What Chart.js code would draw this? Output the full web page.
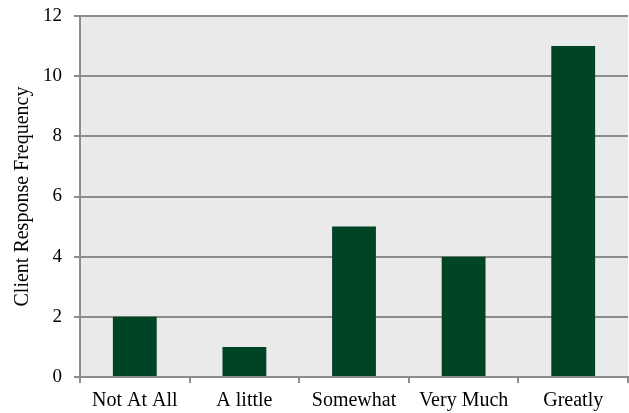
<!DOCTYPE html>
<html>
<head>
<meta charset="utf-8">
<script src="https://cdn.jsdelivr.net/npm/chart.js@4"></script>
<style>
  html, body { margin: 0; padding: 0; background: #ffffff; }
  #wrap { width: 629px; height: 413px; }
</style>
</head>
<body>
<div id="wrap"><canvas id="chart" width="629" height="413"></canvas></div>
<script>
const categories = ["Not At All", "A little", "Somewhat", "Very Much", "Greatly"];
const responseCounts = [2, 1, 5, 4, 11];
const yTicks = [0, 2, 4, 6, 8, 10, 12];

const FONT = "'Liberation Serif', 'Times New Roman', serif";

// Paints the grey plot background behind the bars and gridlines
const plotBackground = {
  id: 'plotBackground',
  beforeDraw(chart) {
    const { ctx, chartArea: a } = chart;
    ctx.save();
    ctx.fillStyle = '#eaeaea';
    ctx.fillRect(a.left, a.top, a.right - a.left, a.bottom - a.top);
    ctx.restore();
  }
};

new Chart(document.getElementById('chart'), {
  type: 'bar',
  data: {
    labels: categories,
    datasets: [{
      data: responseCounts,
      backgroundColor: '#004426',
      borderWidth: 0,
      categoryPercentage: 1.0,
      barPercentage: 0.4
    }]
  },
  options: {
    responsive: false,
    animation: false,
    devicePixelRatio: 1,
    layout: { padding: { left: 0, right: 1, top: 16, bottom: 0 } },
    plugins: {
      legend: { display: false },
      tooltip: { enabled: false }
    },
    scales: {
      x: {
        // fixed band below the plot for the category labels
        afterFit(scale) { scale.height = 36; },
        grid: {
          offset: true,
          drawOnChartArea: false,
          drawTicks: true,
          tickLength: 6,
          color: '#8c8c8c',
          lineWidth: 2
        },
        border: { display: true, color: '#8c8c8c', width: 2 },
        ticks: {
          color: '#000000',
          font: { family: FONT, size: 20 },
          padding: 6,
          maxRotation: 0
        }
      },
      y: {
        min: 0,
        max: 12,
        afterBuildTicks(scale) {
          scale.ticks = yTicks.map(v => ({ value: v }));
        },
        // fixed band on the left for title and tick labels; plot top set by layout padding
        afterFit(scale) {
          scale.width = 80;
          scale.paddingTop = 0;
          scale.paddingBottom = 0;
        },
        grid: {
          color: '#8c8c8c',
          lineWidth: 2,
          drawTicks: true,
          tickLength: 6
        },
        border: { display: true, color: '#8c8c8c', width: 2 },
        ticks: {
          color: '#000000',
          font: { family: FONT, size: 19 },
          padding: 12
        },
        title: {
          display: true,
          text: 'Client Response Frequency',
          color: '#000000',
          font: { family: FONT, size: 20 },
          padding: { top: 11, bottom: 8 }
        }
      }
    }
  },
  plugins: [plotBackground]
});
</script>
</body>
</html>
